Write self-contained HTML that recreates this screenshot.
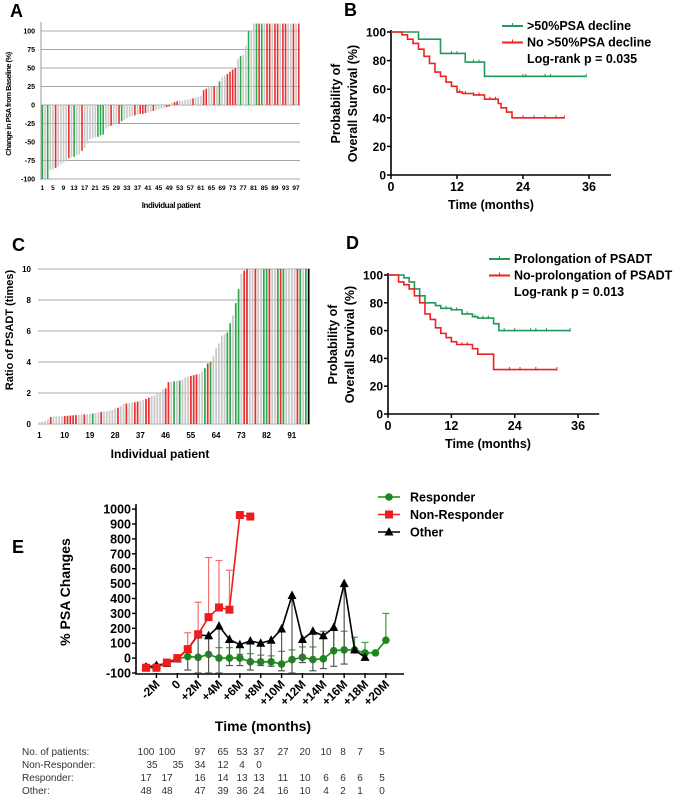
<!DOCTYPE html>
<html><head><meta charset="utf-8"><style>
body{margin:0;background:#fff;}
svg{display:block;font-family:"Liberation Sans",Arial,sans-serif;}
</style></head><body>
<svg id="fig" width="685" height="796" viewBox="0 0 685 796"></svg>
<script>
// Panel A data
const aValues=[-100,-100,-100,-88,-87,-85,-83,-80,-78,-76,-72,-71,-70,-68,-67,-62,-58,-52,-46,-45,-44,-43,-41,-40,-32,-30,-28,-27,-26,-25,-22,-20,-18,-16,-15,-14,-13,-12,-12,-11,-10,-9,-8,-7,-6,-5,-4,-3,-2,3,4,5,6,6,7,7,8,9,10,11,12,20,22,24,25,25,26,32,38,40,42,45,48,50,62,66,68,80,100,100,110,110,110,110,110,110,110,110,110,110,110,110,110,110,110,110,110,110];
const aGroups="GgGggRggggRgGggRgggggGGGggRggRGggggRgRRRggRggggRRgRRgggggRgggRRggRgGggRRRRgGggGggGRGgRRgRRgRRggRgRg";
const aTicks=[-100,-75,-50,-25,0,25,50,75,100];
const aXLabels=[1,5,9,13,17,21,25,29,33,37,41,45,49,53,57,61,65,69,73,77,81,85,89,93,97];
// Panel C data
const cValues=[0.1,0.15,0.2,0.3,0.45,0.48,0.5,0.5,0.5,0.52,0.53,0.55,0.56,0.57,0.58,0.6,0.62,0.64,0.66,0.68,0.7,0.74,0.78,0.8,0.82,0.86,0.9,1.0,1.05,1.15,1.3,1.32,1.35,1.38,1.4,1.45,1.5,1.55,1.62,1.7,1.8,1.85,1.95,2.05,2.2,2.3,2.7,2.72,2.75,2.78,2.8,2.85,3.0,3.05,3.1,3.15,3.2,3.25,3.4,3.6,3.9,4.0,4.4,4.9,5.2,5.7,5.8,5.9,6.5,7.0,7.8,8.7,9.7,9.9,10,10,10,10,10,10,10,10,10,10,10,10,10,10,10,10,10,10,10,10,10,10,10];
const cGroups="ggggRggggRRRRRggRggGggRgggggRggRggRRggRRgggggRRgGgGgggRRRggGRGgggggGGgGGgRRggRggGGRggGRGggggRGgG";
const cTicks=[0,2,4,6,8,10];
const cXLabels=[1,10,19,28,37,46,55,64,73,82,91];
// Panel B data (KM step points: time, survival)
const bGreenT=[0,5,9,13.5,17,35.5];
const bGreenS=[100,95,85,79,69,69];
const bGreenCens=[11,12,15,16,17,24,24.5,28,29,35.5];
const bRedT=[0,1.5,2,3,4,5,6,7,8,9,10,11,12,13,15,17,19.5,20,21,22,31.5];
const bRedS=[100,100,98,95,92,88,83,78,72,69,65,62,58,57,56,53,50,47,44,40,40];
const bRedCens=[12.5,13.5,15,16,18,19,24,26,28,30,31.5];
// Panel D data
const dGreenT=[0,3,4,5,6,7,9,10,12,14,16,17,20,21,34.5];
const dGreenS=[100,98,95,90,85,80,78,76,75,72,70,69,65,60,60];
const dGreenCens=[11,12,13,15,16.5,18,19,22,24,27,28,30,34.5];
const dRedT=[0,1.5,2,3,4,5,6,7,8,9,10,11,12,13,16,17,20,32];
const dRedS=[100,100,95,93,90,85,80,72,68,62,58,55,52,50,47,43,32,32];
const dRedCens=[14,15,23,25,28,32];
// Panel E data
const eXLabels=["-2M","0","+2M","+4M","+6M","+8M","+10M","+12M","+14M","+16M","+18M","+20M"];
const eYTicks=[-100,0,100,200,300,400,500,600,700,800,900,1000];
const nonResp=[-65,-65,-30,0,60,160,275,340,325,960,950];
const nonRespErr=[null,null,-10,null,170,375,675,655,590,null,null];
const other=[-60,-50,-35,-5,60,155,150,215,125,90,115,100,120,195,420,125,180,150,205,500,55,5];
const otherErr=[null,null,null,null,-80,-100,-100,-100,-50,-50,-80,-50,-55,-85,-100,-30,-85,-70,-55,-40,null,null];
const resp=[-60,-55,-35,-5,10,5,25,0,0,0,-25,-25,-25,-40,-10,5,-10,-5,50,55,55,35,35,120];
const respErr=[null,null,null,null,60,null,130,70,70,25,30,20,15,45,55,75,75,180,200,180,140,105,null,300];
const tableLabels=["No. of patients:","Non-Responder:","Responder:","Other:"];
const tableRows=[[100,100,97,65,53,37,27,20,10,8,7,5],[35,35,34,12,4,0],[17,17,16,14,13,13,11,10,6,6,6,5],[48,48,47,39,36,24,16,10,4,2,1,0]];

const NS="http://www.w3.org/2000/svg";
const svg=document.getElementById('fig');
function mk(tag,attrs,parent,text){const e=document.createElementNS(NS,tag);for(const k in attrs)e.setAttribute(k,attrs[k]);if(text!==undefined)e.textContent=text;(parent||svg).appendChild(e);return e;}
const COL={g:"#c9c9c9",G:"#2ea84f",R:"#e8302e"};

// Panel letters
[["A",10,17],["B",344,16],["C",12,251],["D",346,249],["E",12,553]].forEach(l=>{
 const t=mk('text',{x:l[1],y:l[2],'font-size':18,'font-weight':'bold',fill:'#000'},svg,l[0]);
 
 
});

// ---------- Panel A ----------
const gA=mk('g',{});


const aX0=41,aW=259/aValues.length;
const aY=v=>105-v*0.74;
aTicks.forEach(t=>{
 const l=mk('line',{x1:aX0,x2:300,y1:aY(t),y2:aY(t),stroke:'#a8a8a8','stroke-width':1},gA);
 
 
 const tx=mk('text',{x:35,y:aY(t)+2.5,'font-size':7,'font-weight':'bold','text-anchor':'end'},gA,String(t));
 
 
});
aValues.forEach((v,i)=>{
 const x=aX0+i*aW+0.6;const y1=aY(0),y2=aY(v);
 const r=mk('rect',{x:x,y:Math.min(y1,y2),width:aW*0.6,height:Math.abs(y2-y1),fill:COL[aGroups[i]]},gA);
 
 
});
mk('line',{x1:aX0,x2:aX0,y1:22,y2:180,stroke:'#999','stroke-width':1},gA);
aXLabels.forEach(n=>{
 const t=mk('text',{x:aX0+(n-0.5)*aW,y:190,'font-size':6.5,'font-weight':'bold','text-anchor':'middle'},gA,String(n));
 
 
});
let at=mk('text',{x:171,y:208,'font-size':8,'font-weight':'bold','text-anchor':'middle','letter-spacing':'-0.4'},gA,'Individual patient');


at=mk('text',{transform:'translate(11,104) rotate(-90)','font-size':7.5,'font-weight':'bold','text-anchor':'middle','letter-spacing':'-0.5'},gA,'Change in PSA from Baseline (%)');



// ---------- Panel C ----------
const gC=mk('g',{});


const cX0=38,cW=272/cValues.length;
const cY=v=>424-v*15.5;
cTicks.forEach(t=>{
 const l=mk('line',{x1:cX0,x2:310,y1:cY(t),y2:cY(t),stroke:'#a8a8a8','stroke-width':1},gC);
 
 
 const tx=mk('text',{x:31,y:cY(t)+3,'font-size':8,'font-weight':'bold','text-anchor':'end'},gC,String(t));
 
 
});
cValues.forEach((v,i)=>{
 const x=cX0+i*cW+0.6;
 const r=mk('rect',{x:x,y:cY(v),width:cW*0.62,height:cY(0)-cY(v),fill:COL[cGroups[i]]},gC);
 
 
});
cXLabels.forEach(n=>{
 const t=mk('text',{x:cX0+(n-0.5)*cW,y:438,'font-size':8,'font-weight':'bold','text-anchor':'middle'},gC,String(n));
 
 
});
at=mk('text',{x:160,y:458,'font-size':12,'font-weight':'bold','text-anchor':'middle'},gC,'Individual patient');


at=mk('text',{transform:'translate(13,330) rotate(-90)','font-size':11,'font-weight':'bold','text-anchor':'middle'},gC,'Ratio of PSADT (times)');



// ---------- KM panels ----------
function km(cfg){
 const g=mk('g',{});
 
 
 const X=t=>cfg.x0+t*cfg.sx, Y=s=>cfg.y0-s*cfg.sy;
 mk('path',{d:`M${cfg.x0},${Y(100)-2}V${cfg.y0}H${cfg.x0+40*cfg.sx}`,fill:'none',stroke:'#000','stroke-width':1.6},g);
 [0,20,40,60,80,100].forEach(s=>{
  mk('line',{x1:cfg.x0-4,x2:cfg.x0,y1:Y(s),y2:Y(s),stroke:'#000','stroke-width':1.5},g);
  const t=mk('text',{x:cfg.x0-5,y:Y(s)+4.5,'font-size':12,'font-weight':'bold','text-anchor':'end'},g,String(s));
  
  
 });
 [0,12,24,36].forEach(m=>{
  mk('line',{x1:X(m),x2:X(m),y1:cfg.y0,y2:cfg.y0+4,stroke:'#000','stroke-width':1.5},g);
  const t=mk('text',{x:X(m),y:cfg.y0+16,'font-size':12.5,'font-weight':'bold','text-anchor':'middle'},g,String(m));
  
  
 });
 cfg.series.forEach(se=>{
  let d=`M${X(se.t[0])},${Y(se.s[0])}`;
  for(let i=1;i<se.t.length;i++){d+=`H${X(se.t[i])}V${Y(se.s[i])}`;}
  const p=mk('path',{d:d,fill:'none',stroke:se.c,'stroke-width':1.6},g);
  
  
  se.cens.forEach(ct=>{
   let s=se.s[0];for(let i=0;i<se.t.length;i++){if(se.t[i]<=ct)s=se.s[i];}
   const l=mk('line',{x1:X(ct),x2:X(ct),y1:Y(s)-2.5,y2:Y(s)+1,stroke:se.c,'stroke-width':1},g);
   
   
  });
 });
 cfg.legend.forEach((lg,i)=>{
  const y=cfg.ly+i*16.5;
  if(lg.c){
   mk('line',{x1:cfg.lx,x2:cfg.lx+21,y1:y-4,y2:y-4,stroke:lg.c,'stroke-width':2},g);
   mk('line',{x1:cfg.lx+10.5,x2:cfg.lx+10.5,y1:y-7,y2:y-4,stroke:lg.c,'stroke-width':1},g);
  }
  const t=mk('text',{x:cfg.lx+25,y:y,'font-size':12.5,'font-weight':'bold'},g,lg.t);
  
  
 });
 const tt=mk('text',{x:cfg.x0+100,y:cfg.y0+34,'font-size':12.5,'font-weight':'bold','text-anchor':'middle'},g,'Time (months)');
 
 
 const cy=(Y(100)+cfg.y0)/2;
 const y1=mk('text',{transform:`translate(${cfg.x0-51},${cy}) rotate(-90)`,'font-size':12.5,'font-weight':'bold','text-anchor':'middle'},g,'Probability of');
 
 
 mk('text',{transform:`translate(${cfg.x0-34},${cy}) rotate(-90)`,'font-size':12.5,'font-weight':'bold','text-anchor':'middle'},g,'Overall Survival (%)');
}
km({name:'panel-b-km',x0:391,sx:5.5,y0:175,sy:1.43,lx:502,ly:30,
 series:[{t:bGreenT,s:bGreenS,c:'#1f9a5a',cens:bGreenCens,n:'b-curve-psa-decline'},{t:bRedT,s:bRedS,c:'#ee2222',cens:bRedCens,n:'b-curve-no-decline'}],
 legend:[{c:'#1f9a5a',t:'>50%PSA decline'},{c:'#ee2222',t:'No >50%PSA decline'},{t:'Log-rank p = 0.035'}]});
km({name:'panel-d-km',x0:388,sx:5.28,y0:414,sy:1.39,lx:489,ly:263,
 series:[{t:dGreenT,s:dGreenS,c:'#1f9a5a',cens:dGreenCens,n:'d-curve-prolongation'},{t:dRedT,s:dRedS,c:'#ee2222',cens:dRedCens,n:'d-curve-no-prolongation'}],
 legend:[{c:'#1f9a5a',t:'Prolongation of PSADT'},{c:'#ee2222',t:'No-prolongation of PSADT'},{t:'Log-rank p = 0.013'}]});

// ---------- Panel E ----------
const gE=mk('g',{});


const eX=i=>146+i*10.43, eY=v=>673-(v+100)*0.149;
mk('path',{d:`M136,${eY(1000)-5}V${eY(-100)+1}H404`,fill:'none',stroke:'#000','stroke-width':1.6},gE);
eYTicks.forEach(v=>{
 mk('line',{x1:132,x2:136,y1:eY(v),y2:eY(v),stroke:'#000','stroke-width':1.4},gE);
 const t=mk('text',{x:131,y:eY(v)+4.5,'font-size':12.5,'font-weight':'bold','text-anchor':'end'},gE,String(v));
 
 
});
eXLabels.forEach((lb,k)=>{
 const x=eX(1+2*k);
 mk('line',{x1:x,x2:x,y1:eY(-100),y2:eY(-100)+5,stroke:'#000','stroke-width':1.4},gE);
 const t=mk('text',{transform:`translate(${x+4},${eY(-100)+12}) rotate(-45)`,'font-size':12,'font-weight':'bold','text-anchor':'end'},gE,lb);
 
 
});
function eSeries(vals,errs,col,errCol,shape,name){
 errs.forEach((e,i)=>{
  if(e===null)return;
  mk('line',{x1:eX(i),x2:eX(i),y1:eY(vals[i]),y2:eY(e),stroke:errCol,'stroke-width':1.2},gE);
  mk('line',{x1:eX(i)-3.5,x2:eX(i)+3.5,y1:eY(e),y2:eY(e),stroke:errCol,'stroke-width':1.2},gE);
 });
 const p=mk('polyline',{points:vals.map((v,i)=>eX(i)+','+eY(v)).join(' '),fill:'none',stroke:col,'stroke-width':1.6},gE);
 
 
 vals.forEach((v,i)=>{
  const m=marker(eX(i),eY(v),shape,col,gE);
  
  
 });
}
function marker(x,y,shape,col,g){
 if(shape==='sq')return mk('rect',{x:x-4,y:y-4,width:8,height:8,fill:col},g);
 if(shape==='tri')return mk('polygon',{points:`${x},${y-5} ${x-4.5},${y+3.5} ${x+4.5},${y+3.5}`,fill:col},g);
 return mk('circle',{cx:x,cy:y,r:3.8,fill:col},g);
}
eSeries(resp,respErr,'#1a8a1a','#4a9a4a','circ','responder');
eSeries(other,otherErr,'#000','#555','tri','other');
eSeries(nonResp,nonRespErr,'#ee1c1c','#f07070','sq','non-responder');
[['Responder','#1a8a1a','circ'],['Non-Responder','#ee1c1c','sq'],['Other','#000','tri']].forEach((lg,i)=>{
 const y=497+i*17.5;
 mk('line',{x1:378,x2:400,y1:y,y2:y,stroke:lg[1],'stroke-width':1.6},gE);
 marker(389,y,lg[2],lg[1],gE);
 const t=mk('text',{x:410,y:y+4.5,'font-size':12.5,'font-weight':'bold'},gE,lg[0]);
 
 
});
at=mk('text',{x:263,y:731,'font-size':14,'font-weight':'bold','text-anchor':'middle'},gE,'Time (months)');


at=mk('text',{transform:'translate(70,592) rotate(-90)','font-size':14,'font-weight':'bold','text-anchor':'middle'},gE,'% PSA Changes');



// table
const colX=[146,167,200,223,242,259,283,305,326,343,360,382];
const gT=mk('g',{});


tableLabels.forEach((lb,r)=>{
 const y=755+r*13;
 const t=mk('text',{x:22,y:y,'font-size':10,fill:'#333'},gT,lb);
 
 
 tableRows[r].forEach((n,c)=>{
  const x=(r===1&&c<2)?colX[c]+(c===0?6:11):colX[c];
  const tn=mk('text',{x:x,y:y,'font-size':10,fill:'#333','text-anchor':'middle'},gT,String(n));
  
  
 });
});
</script>
</body></html>
